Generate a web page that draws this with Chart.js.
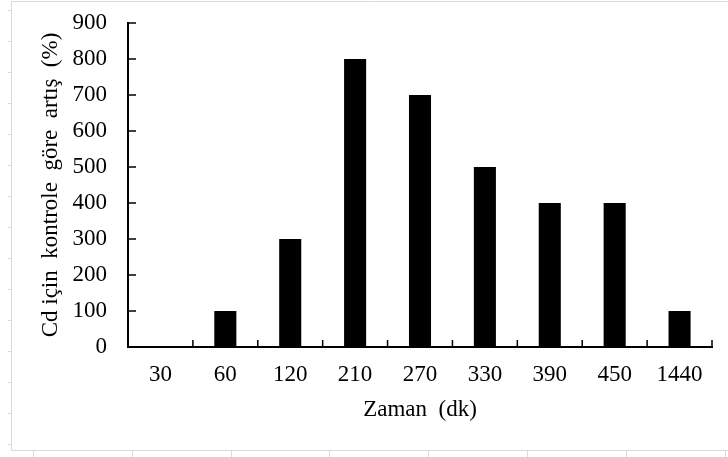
<!DOCTYPE html>
<html>
<head>
<meta charset="utf-8">
<script src="https://cdn.jsdelivr.net/npm/chart.js@4"></script>
<style>
  html, body { margin: 0; padding: 0; background: #fff; }
  #wrap { width: 728px; height: 457px; }
</style>
</head>
<body>
<div id="wrap"><canvas id="chart" width="728" height="457"></canvas></div>
<script>
// data
const zamanLabels = ['30', '60', '120', '210', '270', '330', '390', '450', '1440'];
const artisValues = [0, 100, 300, 800, 700, 500, 400, 400, 100];
const yTicks = [0, 100, 200, 300, 400, 500, 600, 700, 800, 900];

const fontFam = '"Liberation Serif", "Times New Roman", serif';

// sheet frame behind the chart (the grey cell lines of the spreadsheet)
const sheetFrame = {
    id: 'sheetFrame',
    beforeDraw(chart) {
        const c = chart.ctx;
        c.save();
        c.fillStyle = '#fff';
        c.fillRect(0, 0, chart.width, chart.height);
        c.strokeStyle = '#d9d9d9';
        c.lineWidth = 1;
        c.beginPath();
        c.moveTo(11.5, 450.5);
        c.lineTo(11.5, 1.5);
        c.lineTo(727.5, 1.5);
        c.moveTo(11.5, 450.5);
        c.lineTo(728, 450.5);
        for (let y = 10; y < 450; y += 31) {
            c.moveTo(8, y + 0.5);
            c.lineTo(11, y + 0.5);
        }
        for (let x = 33; x < 728; x += 98.8) {
            c.moveTo(Math.round(x) + 0.5, 451);
            c.lineTo(Math.round(x) + 0.5, 457);
        }
        c.stroke();
        c.restore();
    }
};

// tick marks pointing into the plot, like the excel original
const innerTicks = {
    id: 'innerTicks',
    afterDraw(chart) {
        const c = chart.ctx;
        const xs = chart.scales.x;
        const ys = chart.scales.y;
        const area = chart.chartArea;
        c.save();
        c.strokeStyle = '#000';
        c.lineWidth = 1.5;
        c.beginPath();
        ys.ticks.forEach((t) => {
            const y = ys.getPixelForValue(t.value);
            c.moveTo(area.left, y);
            c.lineTo(area.left + 8, y);
        });
        const step = xs.getPixelForValue(1) - xs.getPixelForValue(0);
        for (let i = 1; i <= zamanLabels.length; i++) {
            const x = xs.getPixelForValue(i) - step / 2;
            c.moveTo(x, area.bottom);
            c.lineTo(x, area.bottom - 7);
        }
        c.stroke();
        c.restore();
    }
};

const ctx = document.getElementById('chart').getContext('2d');

new Chart(ctx, {
    type: 'bar',
    data: {
        labels: zamanLabels,
        datasets: [{
            data: artisValues,
            backgroundColor: '#000',
            borderWidth: 0,
            barPercentage: 0.34,
            categoryPercentage: 1
        }]
    },
    options: {
        responsive: false,
        devicePixelRatio: 1,
        animation: false,
        layout: {
            padding: { left: 0, right: 16, top: 23, bottom: 0 }
        },
        plugins: {
            legend: { display: false },
            tooltip: { enabled: false }
        },
        scales: {
            x: {
                grid: { display: false, drawTicks: false },
                border: { display: true, color: '#000', width: 2 },
                ticks: {
                    color: '#000',
                    padding: 14,
                    maxRotation: 0,
                    font: { family: fontFam, size: 23 }
                },
                title: {
                    display: true,
                    text: 'Zaman  (dk)',
                    color: '#000',
                    font: { family: fontFam, size: 23 },
                    padding: { top: 0, bottom: 33 }
                },
                afterFit(scale) {
                    scale.height = 110;
                    scale.paddingLeft = 0;
                    scale.paddingRight = 0;
                }
            },
            y: {
                min: 0,
                max: 900,
                afterBuildTicks(scale) {
                    scale.ticks = yTicks.map(v => ({ value: v }));
                },
                grid: { display: false, drawTicks: false },
                border: { display: true, color: '#000', width: 2 },
                ticks: {
                    color: '#000',
                    padding: 21,
                    font: { family: fontFam, size: 23 }
                },
                title: {
                    display: true,
                    text: 'Cd için  kontrole  göre  artış  (%)',
                    color: '#000',
                    font: { family: fontFam, size: 23 },
                    padding: { top: 37, bottom: 0 }
                },
                afterFit(scale) {
                    scale.width = 128;
                    scale.paddingTop = 0;
                    scale.paddingBottom = 0;
                }
            }
        }
    },
    plugins: [sheetFrame, innerTicks]
});
</script>
</body>
</html>
